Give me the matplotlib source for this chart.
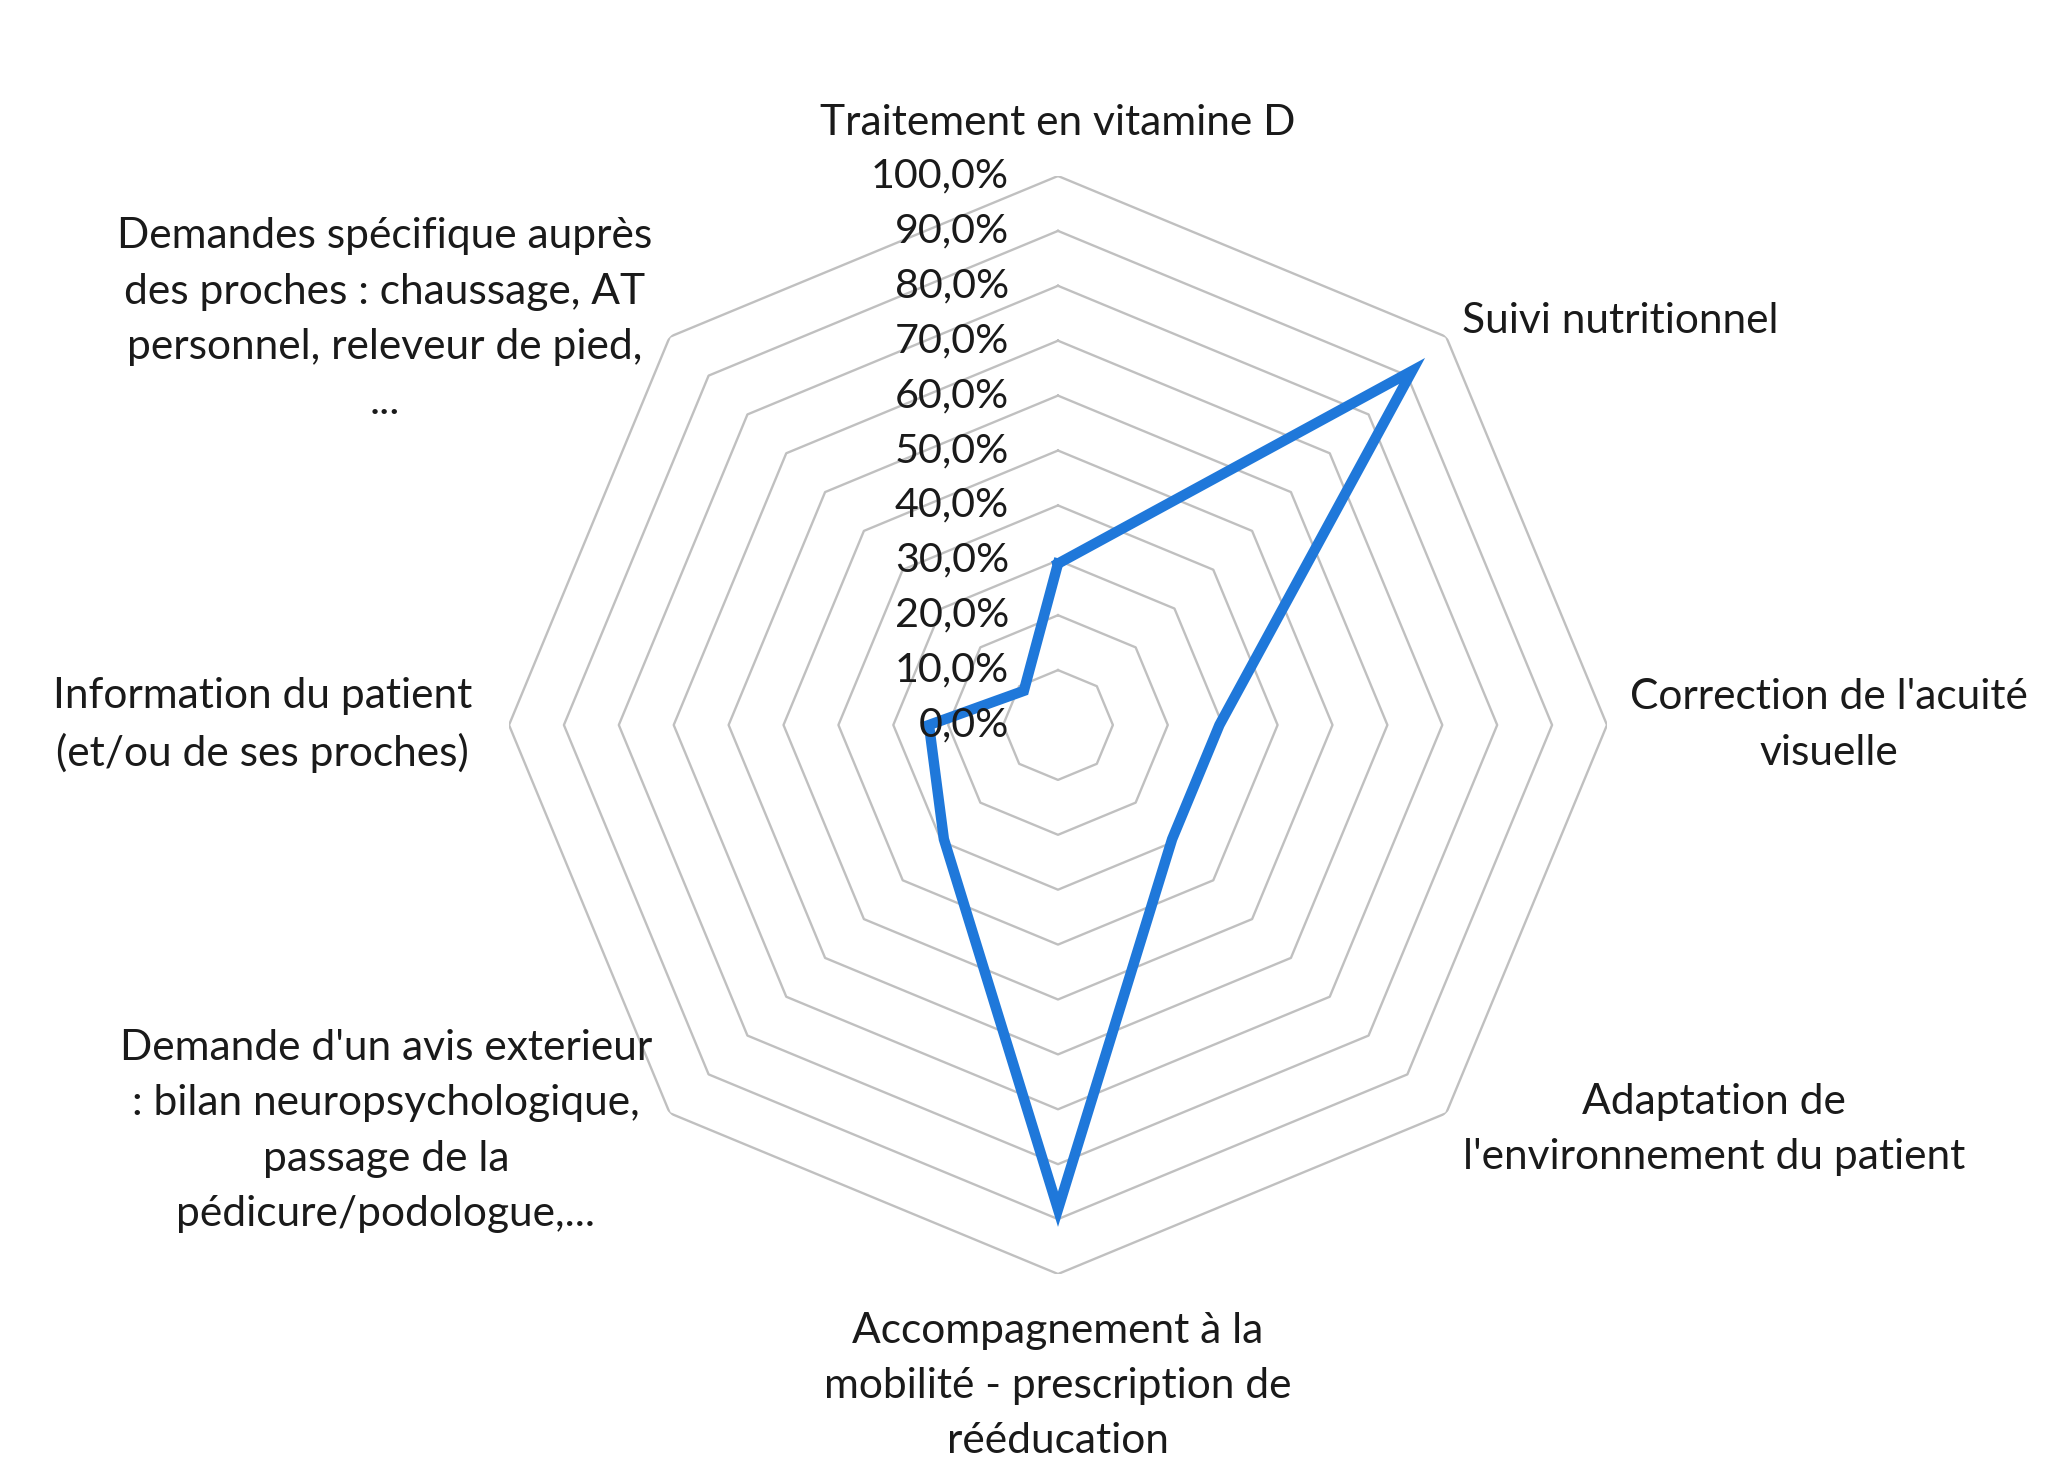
import numpy as np
import matplotlib
matplotlib.use("Agg")
import matplotlib.pyplot as plt
from matplotlib.transforms import offset_copy

categories = [
    "Traitement en vitamine D",
    "Suivi nutritionnel",
    "Correction de l'acuité\nvisuelle",
    "Adaptation de\nl'environnement du patient",
    "Accompagnement à la\nmobilité - prescription de\nrééducation",
    "Demande d'un avis exterieur\n: bilan neuropsychologique,\npassage de la\npédicure/podologue,...",
    "Information du patient\n(et/ou de ses proches)",
    "Demandes spécifique auprès\ndes proches : chaussage, AT\npersonnel, releveur de pied,\n...",
]
valeurs = [29.4, 91.2, 29.4, 29.4, 88.2, 29.4, 23.5, 8.8]
graduations = [0, 10, 20, 30, 40, 50, 60, 70, 80, 90, 100]
etiquettes_grad = ["0,0%", "10,0%", "20,0%", "30,0%", "40,0%", "50,0%",
                   "60,0%", "70,0%", "80,0%", "90,0%", "100,0%"]

plt.rcParams["font.family"] = ["Lato", "DejaVu Sans"]

fig = plt.figure(figsize=(20.54, 14.78), dpi=100)
cx, cy = 1058 / 2054, 1 - 725 / 1478
rw, rh = 549 / 2054, 549 / 1478
ax = fig.add_axes([cx - rw, cy - rh, 2 * rw, 2 * rh], projection="polar")
ax.set_theta_offset(np.pi / 2)
ax.set_theta_direction(-1)
ax.set_ylim(0, 100)
ax.grid(False)
ax.spines["polar"].set_visible(False)
ax.set_xticks([])
ax.set_yticks([])
ax.patch.set_alpha(0)

n = len(categories)
angles = np.linspace(0, 2 * np.pi, n, endpoint=False)
angles_fermes = np.append(angles, angles[0])

# grille octogonale
for g in graduations[1:]:
    ax.plot(angles_fermes, [g] * (n + 1), color="#c0c0c0", lw=1.7, zorder=1)

# série
ax.plot(angles_fermes, valeurs + valeurs[:1], color="#1F78DA", lw=7.5,
        solid_joinstyle="miter", zorder=3)

# étiquettes des graduations
trans = offset_copy(ax.transData, fig=fig, x=-49, y=0, units="dots")
for g, lab in zip(graduations, etiquettes_grad):
    ax.text(0, g, lab, transform=trans, ha="right", va="center",
            fontsize=29.7, color="#1a1a1a", zorder=4)

# étiquettes des catégories
positions = [
    (109.6, "center", "center"),
    (104.1, "left", "center"),
    (104.2, "left", "center"),
    (104.2, "left", "center"),
    (120.4, "center", "center"),
    (104.6, "right", "center"),
    (106.7, "right", "center"),
    (104.5, "right", "center"),
]
for a, lab, (r, ha, va) in zip(angles, categories, positions):
    ax.text(a, r, lab, ha=ha, va=va, multialignment="center",
            fontsize=30.6, color="#1a1a1a", linespacing=1.56)

fig.savefig("out.png", dpi=100, facecolor="white")
